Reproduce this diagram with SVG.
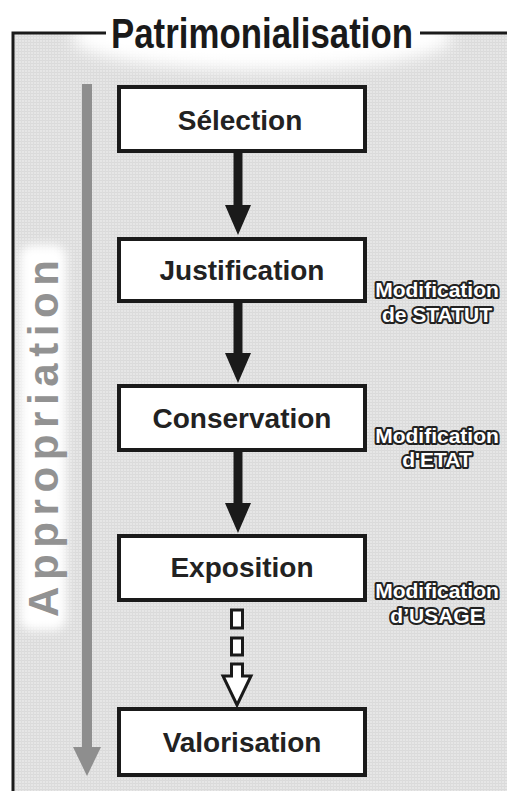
<svg xmlns="http://www.w3.org/2000/svg" width="507" height="791" viewBox="0 0 507 791">
<defs>
<pattern id="tex" width="3" height="3" patternUnits="userSpaceOnUse">
<rect width="3" height="3" fill="#e6e6e6"/>
<rect width="3" height="1" fill="#dadada"/>
<rect width="1" height="3" fill="#dcdcdc"/>
</pattern>
<filter id="blur" x="-30%" y="-30%" width="160%" height="160%"><feGaussianBlur stdDeviation="8"/></filter>
<filter id="blur2" x="-50%" y="-20%" width="200%" height="140%"><feGaussianBlur stdDeviation="5"/></filter>
<style>
.box{fill:#fff;stroke:#1a1a1a;stroke-width:4}
.lbl{font-family:"Liberation Sans",Arial,sans-serif;font-weight:bold;font-size:28px;fill:#222;text-anchor:middle}
.mod{font-family:"Liberation Sans",Arial,sans-serif;font-weight:bold;font-size:21px;fill:#fff;stroke:#222;stroke-width:4;paint-order:stroke;stroke-linejoin:round;text-anchor:middle}
.arr{fill:#1a1a1a}
.hol{fill:#fff;stroke:#1a1a1a;stroke-width:3;stroke-linejoin:miter}
</style>
</defs>
<rect width="507" height="791" fill="#fff"/>
<rect x="13" y="33" width="494" height="758" fill="url(#tex)"/>
<ellipse cx="262" cy="38" rx="190" ry="32" fill="#fff" filter="url(#blur)"/>
<rect x="20" y="245" width="46" height="385" rx="12" fill="#fff" filter="url(#blur2)"/>
<g id="frame">
<path d="M13,791 V33 H106 M420,33 H507" fill="none" stroke="#1a1a1a" stroke-width="3"/>
<text x="262" y="48" font-family="'Liberation Sans',Arial,sans-serif" font-weight="bold" font-size="42" fill="#1a1a1a" text-anchor="middle" textLength="302" lengthAdjust="spacingAndGlyphs">Patrimonialisation</text>
</g>
<g id="appropriation">
<rect x="82" y="84" width="10" height="664" fill="#8e8e8e"/>
<polygon points="73,747 101,747 87,776" fill="#8e8e8e"/>
<text transform="translate(58,617) rotate(-90)" font-family="'Liberation Sans',Arial,sans-serif" font-weight="bold" font-size="42" fill="#929292" textLength="357" lengthAdjust="spacing">Appropriation</text>
</g>
<g id="connectors">
<polygon class="arr" points="233.5,153 242.5,153 242.5,205 251,205 238,235 225,205 233.5,205"/>
<polygon class="arr" points="233.5,303 242.5,303 242.5,353 251,353 238,383 225,353 233.5,353"/>
<polygon class="arr" points="233.5,452 242.5,452 242.5,503 251,503 238,533 225,503 233.5,503"/>
<rect class="hol" x="231.5" y="610" width="11" height="18"/>
<rect class="hol" x="231.5" y="638" width="11" height="17"/>
<polygon class="hol" points="231.5,664 242.5,664 242.5,676 251,676 237,705 223,676 231.5,676"/>
</g>
<g id="selection">
<rect class="box" x="119" y="87" width="246" height="64"/>
<text class="lbl" x="240" y="130">Sélection</text>
</g>
<g id="justification">
<rect class="box" x="119" y="239" width="246" height="62"/>
<text class="lbl" x="242" y="280">Justification</text>
</g>
<g id="conservation">
<rect class="box" x="119" y="386" width="246" height="64"/>
<text class="lbl" x="242" y="428">Conservation</text>
</g>
<g id="exposition">
<rect class="box" x="119" y="536" width="246" height="64"/>
<text class="lbl" x="242" y="577">Exposition</text>
</g>
<g id="valorisation">
<rect class="box" x="119" y="709" width="246" height="66"/>
<text class="lbl" x="242" y="752">Valorisation</text>
</g>
<g id="mod-statut">
<text class="mod" x="437" y="297">Modification</text>
<text class="mod" x="437" y="322">de STATUT</text>
</g>
<g id="mod-etat">
<text class="mod" x="437" y="443">Modification</text>
<text class="mod" x="437" y="467">d'ETAT</text>
</g>
<g id="mod-usage">
<text class="mod" x="437" y="598">Modification</text>
<text class="mod" x="437" y="623">d’USAGE</text>
</g>
</svg>
